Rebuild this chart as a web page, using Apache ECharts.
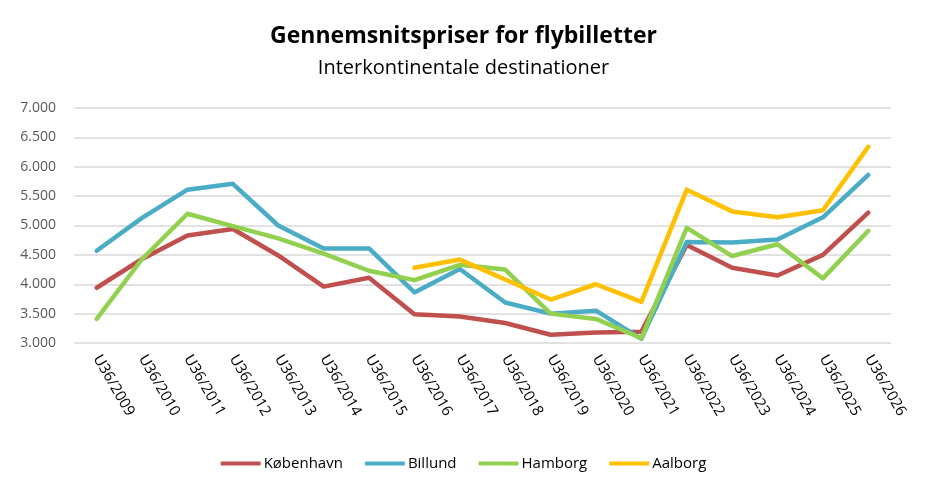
<!DOCTYPE html>
<html>
<head>
<meta charset="utf-8">
<script src="https://cdn.jsdelivr.net/npm/echarts@6/dist/echarts.min.js"></script>
<style>
  html, body { margin: 0; padding: 0; background: #fff; }
  #main { width: 927px; height: 493px; }
</style>
</head>
<body>
<div id="main"></div>
<script>
var weeks = ['U36/2009', 'U36/2010', 'U36/2011', 'U36/2012', 'U36/2013', 'U36/2014',
  'U36/2015', 'U36/2016', 'U36/2017', 'U36/2018', 'U36/2019', 'U36/2020',
  'U36/2021', 'U36/2022', 'U36/2023', 'U36/2024', 'U36/2025', 'U36/2026'];

var koebenhavn = [3940, 4430, 4830, 4940, 4490, 3960, 4110, 3490, 3450, 3340,
  3140, 3180, 3190, 4670, 4280, 4150, 4500, 5220];
var billund = [4570, 5130, 5610, 5710, 5000, 4610, 4610, 3860, 4260, 3690,
  3500, 3550, 3070, 4720, 4710, 4760, 5140, 5860];
var hamborg = [3410, 4430, 5200, 4990, 4780, 4520, 4230, 4070, 4330, 4250,
  3500, 3410, 3080, 4960, 4480, 4680, 4100, 4910];
var aalborg = [null, null, null, null, null, null, null, 4280, 4420, 4080,
  3740, 4000, 3700, 5610, 5240, 5140, 5260, 6340];

var colors = ['#C0504D', '#4BACC6', '#92D050', '#FFC000'];

function dk(v) {
  var s = String(Math.round(v));
  return s.replace(/\B(?=(\d{3})+(?!\d))/g, '.');
}

function line(name, data, color) {
  return {
    name: name,
    type: 'line',
    data: data,
    symbol: 'none',
    connectNulls: false,
    lineStyle: { width: 4.5, color: color, cap: 'round', join: 'round' },
    itemStyle: { color: color }
  };
}

var chart = echarts.init(document.getElementById('main'));
chart.setOption({
  animation: false,
  title: {
    text: 'Gennemsnitspriser for flybilletter',
    subtext: 'Interkontinentale destinationer',
    left: 'center',
    top: 20,
    itemGap: 10,
    textStyle: { fontFamily: 'Open Sans', fontSize: 23, fontWeight: 'bold', color: '#000' },
    subtextStyle: { fontFamily: 'Open Sans', fontSize: 20, color: '#000' }
  },
  legend: {
    bottom: 17,
    left: 'center',
    itemWidth: 40,
    itemHeight: 4,
    itemGap: 22,
    icon: 'roundRect',
    textStyle: { fontFamily: 'Open Sans', fontSize: 15, color: '#000', padding: [0, 0, 0, -2] },
    data: ['København', 'Billund', 'Hamborg', 'Aalborg']
  },
  grid: { left: 74, right: 36, top: 108, bottom: 150 },
  xAxis: {
    type: 'category',
    data: weeks,
    boundaryGap: true,
    axisLine: { show: false },
    axisTick: { show: false },
    axisLabel: {
      rotate: -60,
      interval: 0,
      margin: 13,
      fontFamily: 'Open Sans',
      fontSize: 15,
      color: '#000'
    }
  },
  yAxis: {
    type: 'value',
    min: 3000,
    max: 7000,
    interval: 500,
    axisLine: { show: false },
    axisTick: { show: false },
    splitLine: { lineStyle: { color: '#d9d9d9', width: 1.5 } },
    axisLabel: {
      margin: 18,
      fontFamily: 'Open Sans',
      fontSize: 14,
      color: '#595959',
      formatter: dk
    }
  },
  series: [
    line('København', koebenhavn, colors[0]),
    line('Billund', billund, colors[1]),
    line('Hamborg', hamborg, colors[2]),
    line('Aalborg', aalborg, colors[3])
  ]
});
</script>
</body>
</html>
